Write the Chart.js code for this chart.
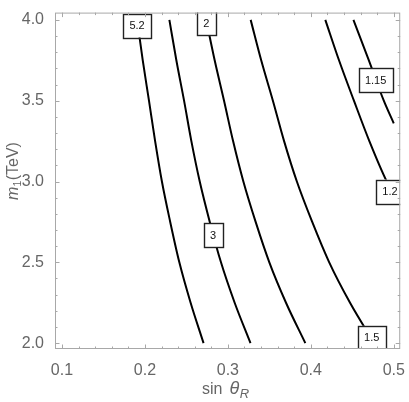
<!DOCTYPE html>
<html>
<head>
<meta charset="utf-8">
<script src="https://cdn.jsdelivr.net/npm/chart.js@4.4.1/dist/chart.umd.min.js"></script>
<style>
  html, body { margin: 0; padding: 0; background: #fff; }
  #wrap { width: 409px; height: 402px; }
</style>
</head>
<body>
<div id="wrap"><canvas id="chart"></canvas></div>
<script>
const xTicks = [0.1, 0.2, 0.3, 0.4, 0.5];
const yTicks = [2.0, 2.5, 3.0, 3.5, 4.0];

// m1 levels (TeV) at which the contours were read
const mLevels = [4.0, 3.75, 3.5, 3.25, 3.0, 2.75, 2.5, 2.25, 2.0];

// sin(theta_R) of each contour at those levels
const curve52 = [0.1906, 0.1974, 0.2049, 0.2123, 0.2205, 0.2305, 0.2415, 0.2551, 0.2707];
const curve3 = [0.2295, 0.2379, 0.2472, 0.2560, 0.2661, 0.2782, 0.2917, 0.3082, 0.3273];
const curve2 = [0.2739, 0.2841, 0.2954, 0.3063, 0.3187, 0.3335, 0.3500, 0.3701, 0.3934];
const curve15 = [0.3275, 0.3402, 0.3543, 0.3678, 0.3832, 0.4017, 0.4222, 0.4473, 0.4764];
// these two run into the right edge (sin = 0.5)
const curve12 = [0.4175, 0.4340, 0.4520, 0.4706, 0.4916, 0.5];
const curve12M = [4.0, 3.75, 3.5, 3.25, 3.0, 2.925];
const curve115 = [0.4514, 0.4700, 0.4880, 0.5];
const curve115M = [4.0, 3.75, 3.5, 3.36];

const contourLabels = [
  { text: "5.2", x: 0.1905, y: 3.965 },
  { text: "3", x: 0.2821, y: 2.667 },
  { text: "2", x: 0.2739, y: 3.979 },
  { text: "1.5", x: 0.4734, y: 2.033 },
  { text: "1.2", x: 0.4954, y: 2.938 },
  { text: "1.15", x: 0.4781, y: 3.627 },
];

const FONT = "'Liberation Sans', Arial, sans-serif";
const GRAY = "#666";
const FRAME = "#a8a8a8";

const line = (xs, ms) => ({
  data: xs.map((x, i) => ({ x: x, y: ms[i] })),
  showLine: true,
  borderColor: "#000",
  borderWidth: 2,
  pointRadius: 0,
  cubicInterpolationMode: "monotone",
  fill: false,
});

const framePlugin = {
  id: "frame",
  afterDatasetsDraw(chart) {
    const { ctx, chartArea: a, scales } = chart;
    const sx = scales.x, sy = scales.y;

    // boxed contour labels, clipped by the frame
    ctx.save();
    ctx.beginPath();
    ctx.rect(a.left, a.top, a.right - a.left, a.bottom - a.top);
    ctx.clip();
    ctx.font = "11px " + FONT;
    ctx.textAlign = "center";
    ctx.textBaseline = "middle";
    contourLabels.forEach(l => {
      const px = sx.getPixelForValue(l.x);
      const py = sy.getPixelForValue(l.y);
      const w = ctx.measureText(l.text).width + 12.5;
      const h = 24;
      ctx.fillStyle = "#fff";
      ctx.fillRect(px - w / 2, py - h / 2, w, h);
      ctx.strokeStyle = "#222";
      ctx.lineWidth = 1.4;
      ctx.strokeRect(Math.round(px - w / 2) + 0.5, Math.round(py - h / 2) + 0.5, Math.round(w), h);
      ctx.fillStyle = "#111";
      ctx.fillText(l.text, px, py + 0.5);
    });
    ctx.restore();

    // frame + inward ticks on all four sides
    ctx.save();
    ctx.strokeStyle = FRAME;
    ctx.lineWidth = 1;
    ctx.strokeRect(a.left + 0.5, a.top + 0.5, a.right - a.left - 1, a.bottom - a.top - 1);
    ctx.beginPath();
    for (let i = 5; i <= 25; i++) {
      const px = Math.round(sx.getPixelForValue(i / 50)) + 0.5;
      const len = i % 5 === 0 ? 4.5 : 2.5;
      ctx.moveTo(px, a.bottom); ctx.lineTo(px, a.bottom - len);
      ctx.moveTo(px, a.top); ctx.lineTo(px, a.top + len);
    }
    for (let i = 20; i <= 40; i++) {
      const py = Math.round(sy.getPixelForValue(i / 10)) + 0.5;
      const len = i % 5 === 0 ? 4.5 : 2.5;
      ctx.moveTo(a.left, py); ctx.lineTo(a.left + len, py);
      ctx.moveTo(a.right, py); ctx.lineTo(a.right - len, py);
    }
    ctx.stroke();
    ctx.restore();
  },
  afterDraw(chart) {
    const ctx = chart.ctx;
    ctx.save();
    ctx.fillStyle = GRAY;
    ctx.textBaseline = "alphabetic";
    ctx.textAlign = "left";

    // x title: sin θ_R  [text, font, baseline shift, gap after]
    const parts = [
      ["sin", "16px " + FONT, 0, 7],
      ["θ", "italic 18px " + FONT, 0, 0.5],
      ["R", "italic 13px " + FONT, 4, 0],
    ];
    let total = 0;
    parts.forEach(p => { ctx.font = p[1]; total += ctx.measureText(p[0]).width + p[3]; });
    let cx = 225.5 - total / 2;
    parts.forEach(p => {
      ctx.font = p[1];
      ctx.fillText(p[0], cx, 394 + p[2]);
      cx += ctx.measureText(p[0]).width + p[3];
    });

    // y title: m_1(TeV)
    const yparts = [
      ["m", "italic 16px " + FONT, 0, 0],
      ["1", "10.5px " + FONT, 2.5, 0.5],
      ["(TeV)", "16px " + FONT, 0, 0],
    ];
    total = 0;
    yparts.forEach(p => { ctx.font = p[1]; total += ctx.measureText(p[0]).width + p[3]; });
    ctx.translate(18.3, 171);
    ctx.rotate(-Math.PI / 2);
    cx = -total / 2;
    yparts.forEach(p => {
      ctx.font = p[1];
      ctx.fillText(p[0], cx, p[2]);
      cx += ctx.measureText(p[0]).width + p[3];
    });
    ctx.restore();
  },
};

new Chart(document.getElementById("chart"), {
  type: "scatter",
  data: {
    datasets: [
      line(curve52, mLevels),
      line(curve3, mLevels),
      line(curve2, mLevels),
      line(curve15, mLevels),
      line(curve12, curve12M),
      line(curve115, curve115M),
    ],
  },
  options: {
    responsive: true,
    maintainAspectRatio: false,
    animation: false,
    events: [],
    layout: { padding: { top: 4, right: 7, left: 0, bottom: 0 } },
    plugins: { legend: { display: false }, tooltip: { enabled: false } },
    scales: {
      x: {
        type: "linear",
        min: 0.0916,
        max: 0.5078,
        afterBuildTicks: s => { s.ticks = xTicks.map(v => ({ value: v })); },
        afterFit: s => { s.height = 53; },
        grid: { display: false },
        border: { display: false },
        ticks: {
          color: GRAY,
          padding: 4,
          maxRotation: 0,
          font: { family: FONT, size: 16 },
          callback: v => v.toFixed(1),
        },
      },
      y: {
        type: "linear",
        min: 1.9638,
        max: 4.045,
        afterBuildTicks: s => { s.ticks = yTicks.map(v => ({ value: v })); },
        afterFit: s => { s.width = 55; },
        grid: { display: false },
        border: { display: false },
        ticks: {
          color: GRAY,
          padding: 3,
          font: { family: FONT, size: 16 },
          callback: v => v.toFixed(1),
        },
      },
    },
  },
  plugins: [framePlugin],
});
</script>
</body>
</html>
